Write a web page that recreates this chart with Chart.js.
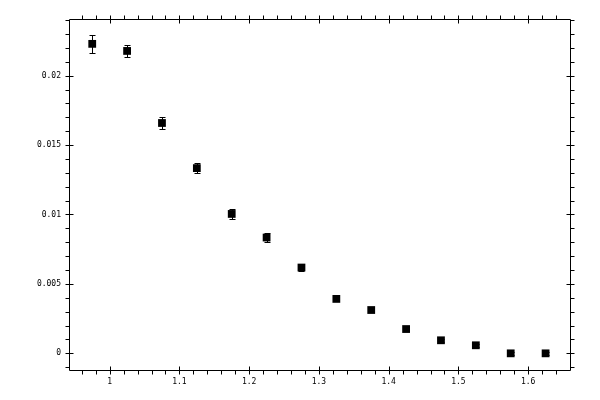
<!DOCTYPE html>
<html>
<head>
<meta charset="utf-8">
<script src="https://cdn.jsdelivr.net/npm/chart.js@4.4.1/dist/chart.umd.min.js"></script>
<style>
  html, body { margin: 0; padding: 0; background: #fff; }
  #wrap { width: 600px; height: 400px; }
</style>
</head>
<body>
<div id="wrap"><canvas id="chart"></canvas></div>
<script>
// data
const xValues = [0.975, 1.025, 1.075, 1.125, 1.175, 1.225, 1.275, 1.325, 1.375, 1.425, 1.475, 1.525, 1.575, 1.625];
const yValues = [0.02229, 0.02178, 0.01659, 0.01334, 0.01004, 0.00834, 0.00618, 0.00392, 0.00312, 0.00175, 0.00094, 0.00058, 0, 0];
const yErrors = [0.00066, 0.00043, 0.0004, 0.00036, 0.00038, 0.0003, 0.00025, 0.0001, 0.0001, 0.0001, 0.0001, 0.0001, 0.0001, 0.0001];
const xTicks = [1, 1.1, 1.2, 1.3, 1.4, 1.5, 1.6];
const yTicks = [0, 0.005, 0.01, 0.015, 0.02];
const xRange = [0.9417, 1.66];
const yRange = [-0.0012, 0.02408];
const xMinorStep = 0.02;
const yMinorStep = 0.001;

const points = xValues.map((x, i) => ({ x, y: yValues[i] }));

const fmt = v => String(Number(v.toFixed(4)));

// error bars, drawn under the markers
const errorBars = {
    id: "errorBars",
    beforeDatasetsDraw(chart) {
        const { ctx, scales: { x, y } } = chart;
        ctx.save();
        ctx.strokeStyle = "#000";
        ctx.lineWidth = 1;
        ctx.beginPath();
        xValues.forEach((xv, i) => {
            const px = Math.round(x.getPixelForValue(xv)) + 0.5;
            const top = Math.round(y.getPixelForValue(yValues[i] + yErrors[i])) + 0.5;
            const bot = Math.round(y.getPixelForValue(yValues[i] - yErrors[i])) + 0.5;
            ctx.moveTo(px, top); ctx.lineTo(px, bot);
            ctx.moveTo(px - 3, top); ctx.lineTo(px + 3, top);
            ctx.moveTo(px - 3, bot); ctx.lineTo(px + 3, bot);
        });
        ctx.stroke();
        ctx.restore();
    }
};

// frame with major/minor ticks on all four sides
const frame = {
    id: "frame",
    afterDraw(chart) {
        const { ctx, chartArea: a, scales: { x, y } } = chart;
        const L = Math.round(a.left) + 0.5, R = Math.round(a.right) + 0.5;
        const T = Math.round(a.top) + 0.5, B = Math.round(a.bottom) + 0.5;
        ctx.save();
        ctx.strokeStyle = "#000";
        ctx.lineWidth = 1;
        ctx.beginPath();
        ctx.rect(L, T, R - L, B - T);

        const isMajor = (v, list) => list.some(t => Math.abs(t - v) < 1e-9);
        for (let v = Math.ceil(xRange[0] / xMinorStep) * xMinorStep; v <= xRange[1]; v += xMinorStep) {
            const p = Math.round(x.getPixelForValue(v)) + 0.5;
            if (isMajor(v, xTicks)) {
                ctx.moveTo(p, B - 4); ctx.lineTo(p, B + 4);
                ctx.moveTo(p, T - 4); ctx.lineTo(p, T + 4);
            } else {
                ctx.moveTo(p, B); ctx.lineTo(p, B + 4);
                ctx.moveTo(p, T); ctx.lineTo(p, T - 4);
            }
        }
        for (let v = Math.ceil(yRange[0] / yMinorStep) * yMinorStep; v <= yRange[1]; v += yMinorStep) {
            const p = Math.round(y.getPixelForValue(v)) + 0.5;
            if (isMajor(v, yTicks)) {
                ctx.moveTo(L - 4, p); ctx.lineTo(L + 4, p);
                ctx.moveTo(R - 4, p); ctx.lineTo(R + 4, p);
            } else {
                ctx.moveTo(L, p); ctx.lineTo(L - 4, p);
                ctx.moveTo(R, p); ctx.lineTo(R + 4, p);
            }
        }
        ctx.stroke();
        ctx.restore();
    }
};

new Chart(document.getElementById("chart"), {
    type: "scatter",
    data: {
        datasets: [{
            data: points,
            pointStyle: "rect",
            pointRadius: 5.5,
            pointHoverRadius: 5.5,
            pointBorderWidth: 0,
            backgroundColor: "#000",
            borderColor: "#000"
        }]
    },
    options: {
        responsive: true,
        maintainAspectRatio: false,
        animation: false,
        layout: { padding: { top: 19, right: 30, left: 0, bottom: 0 } },
        plugins: { legend: { display: false }, tooltip: { enabled: false } },
        scales: {
            x: {
                type: "linear",
                min: xRange[0],
                max: xRange[1],
                grid: { display: false, drawTicks: false },
                border: { display: false },
                afterBuildTicks: s => { s.ticks = xTicks.map(v => ({ value: v })); },
                afterFit: s => { s.height = 30; },
                ticks: {
                    padding: 7,
                    color: "#000",
                    font: { family: "DejaVu Sans Mono", size: 8 },
                    maxRotation: 0,
                    callback: v => fmt(v)
                }
            },
            y: {
                min: yRange[0],
                max: yRange[1],
                grid: { display: false, drawTicks: false },
                border: { display: false },
                afterBuildTicks: s => { s.ticks = yTicks.map(v => ({ value: v })); },
                afterFit: s => { s.width = 69; },
                ticks: {
                    padding: 8,
                    color: "#000",
                    font: { family: "DejaVu Sans Mono", size: 8 },
                    callback: v => fmt(v)
                }
            }
        }
    },
    plugins: [errorBars, frame]
});
</script>
</body>
</html>
